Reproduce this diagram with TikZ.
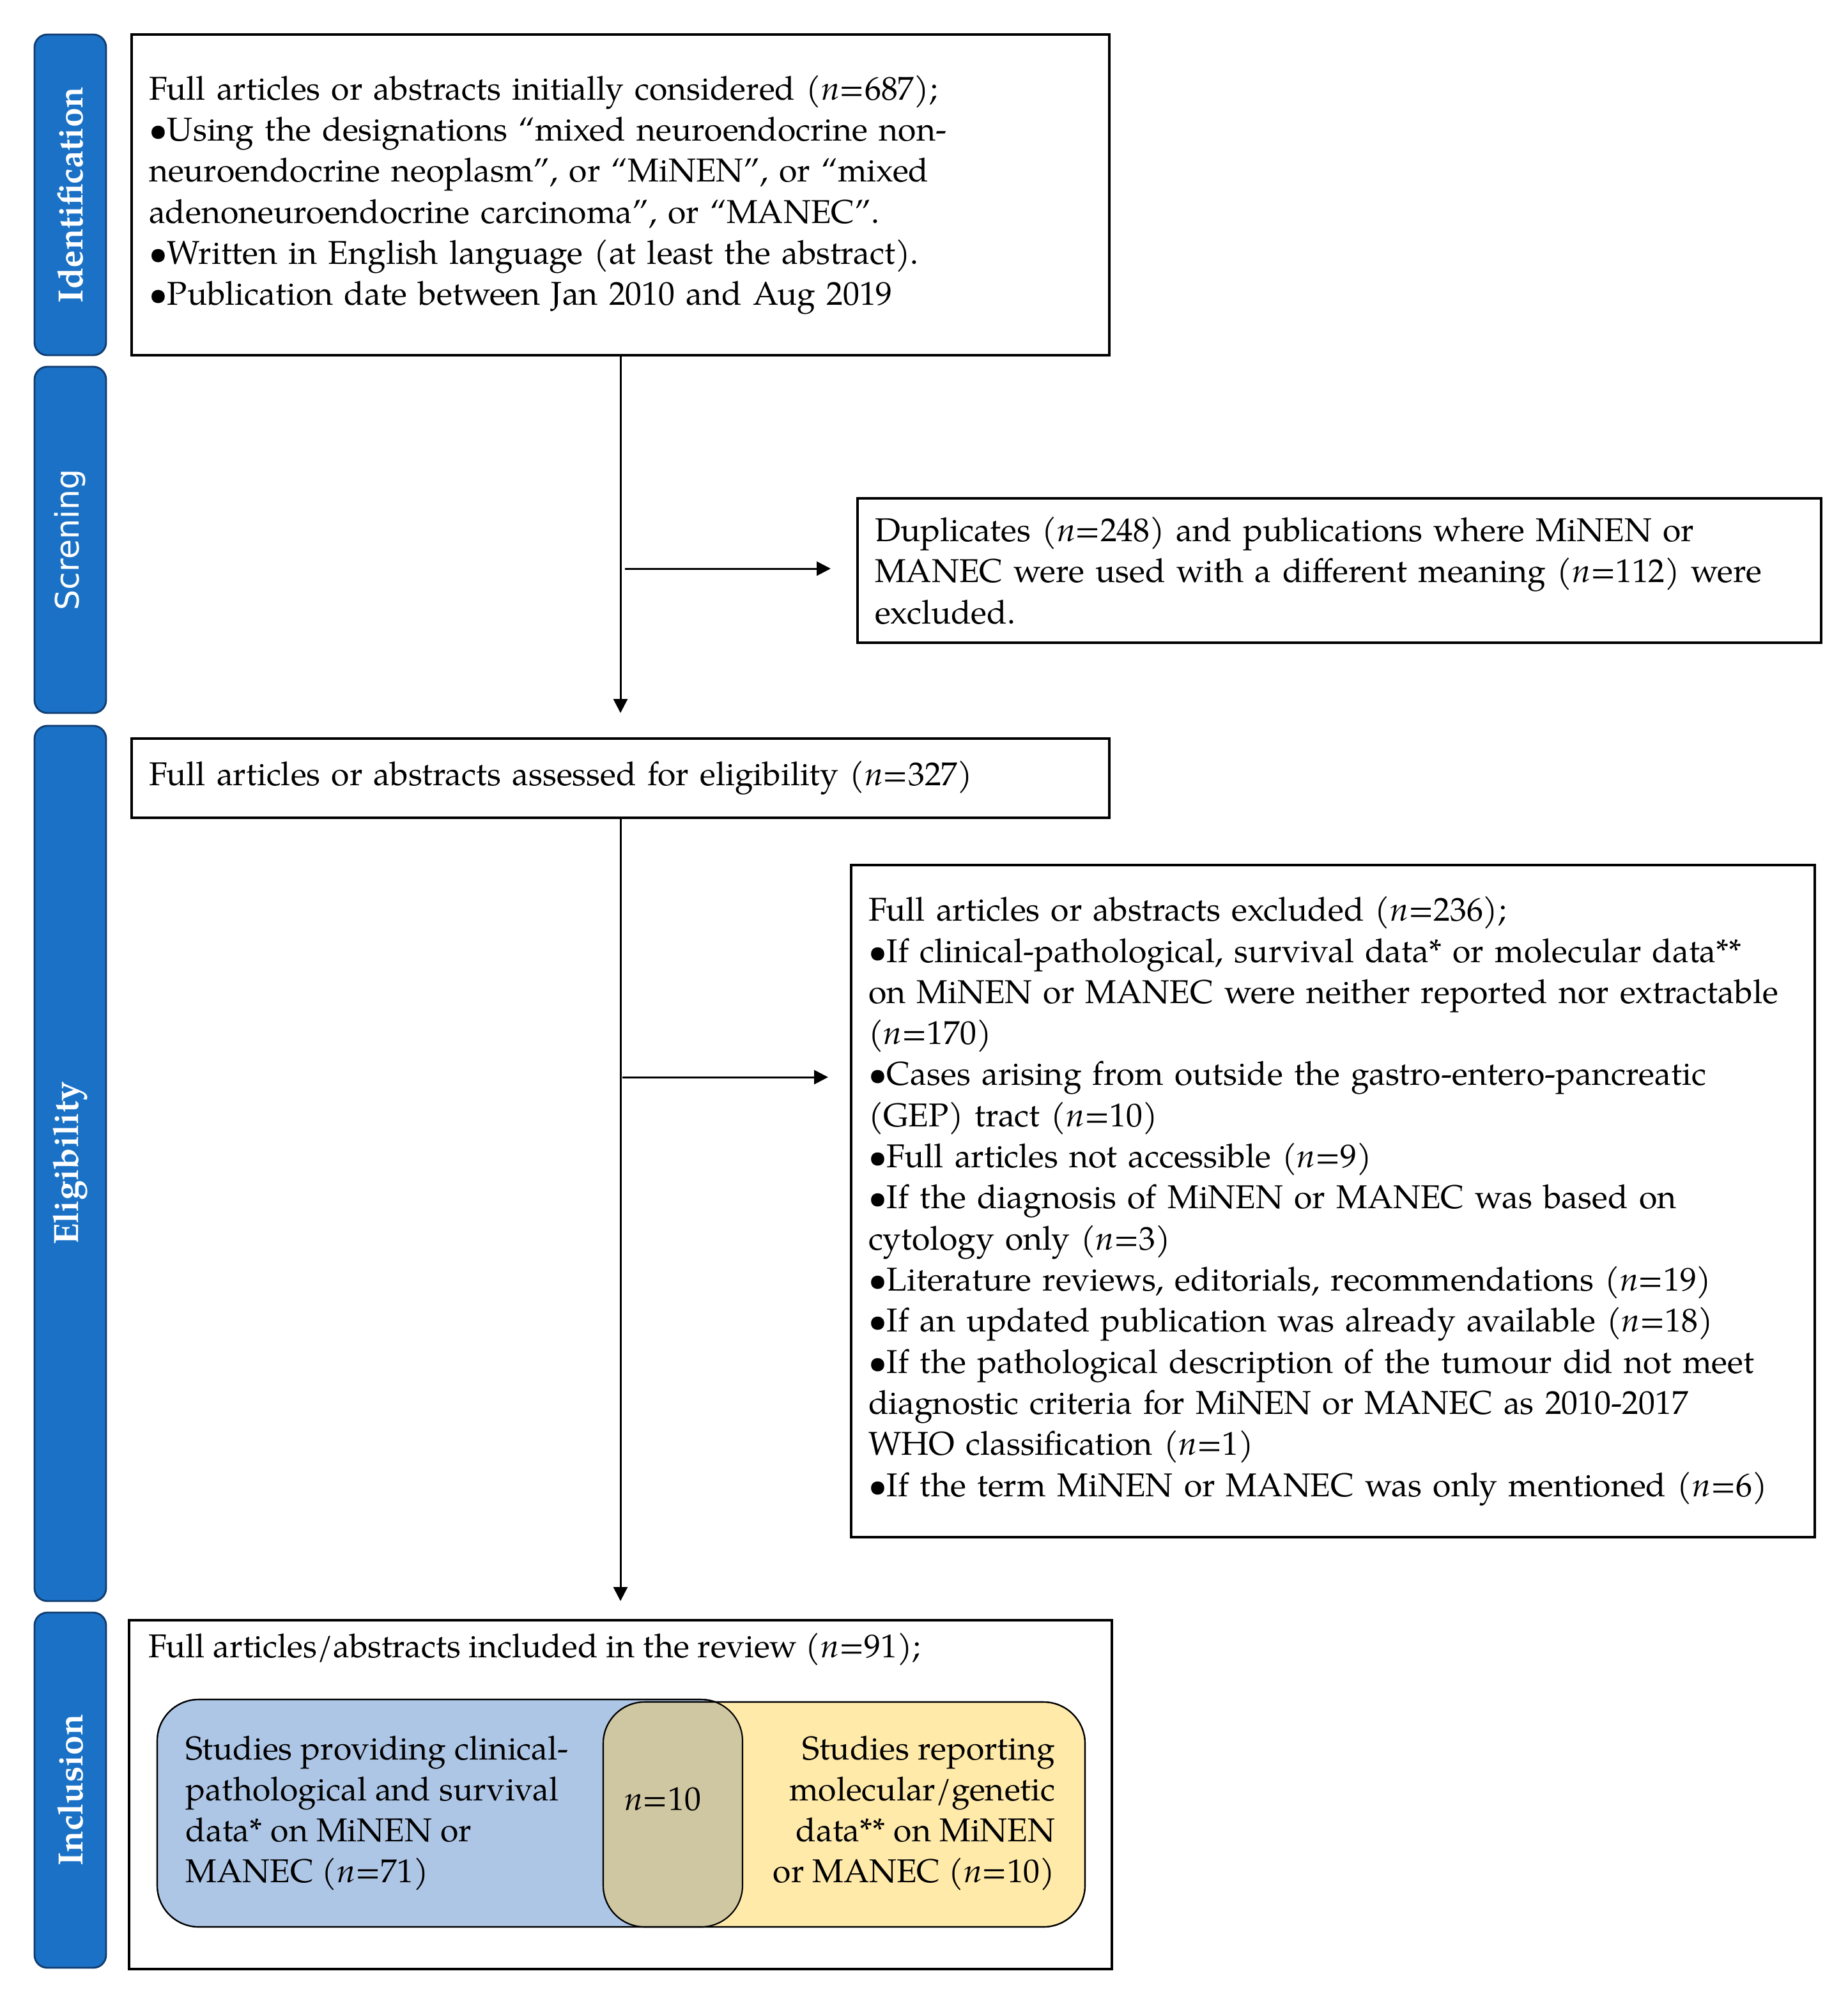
\documentclass[tikz,border=0pt]{standalone}
\usepackage{fontspec}
\setmainfont{TeX Gyre Pagella}
\newfontfamily\screenfont{DejaVu Sans}
\usetikzlibrary{arrows.meta}

\definecolor{barblue}{RGB}{26,113,197}
\definecolor{baredge}{RGB}{16,60,112}
\definecolor{clinblue}{RGB}{174,198,230}
\definecolor{molyellow}{RGB}{255,234,170}
\definecolor{bothtan}{RGB}{207,198,162}

\newcommand{\bodysize}{\fontsize{14.7pt}{18.3pt}\selectfont}
\newcommand{\barsize}{\fontsize{15.6pt}{17pt}\selectfont}

\begin{document}
\begin{tikzpicture}[
  box/.style={rectangle, draw, line width=1pt, inner xsep=0.27cm, inner ysep=0pt, outer sep=0pt, align=left, font=\bodysize},
  wide/.style={box, text width=14.76cm},
  side/.style={rectangle, draw=baredge, fill=barblue, line width=0.8pt, rounded corners=0.2cm, rotate=90, minimum height=1.12cm, text=white, font=\barsize\bfseries},
  setbox/.style={rectangle, draw, line width=0.6pt, rounded corners=0.65cm, outer sep=0pt},
  vtext/.style={inner sep=0pt, font=\bodysize},
  flow/.style={-{Triangle[length=0.22cm,width=0.22cm]}, line width=0.85pt},
  node distance=2cm
]
\useasboundingbox (0,0) rectangle (28.91,-31.32);

\node[wide, minimum height=5.02cm] (ident) at (9.71,-3.05) {Full articles or abstracts initially considered (\textit{n}=687);\\
•Using the designations “mixed neuroendocrine non-\\
neuroendocrine neoplasm”, or “MiNEN”, or “mixed\\
adenoneuroendocrine carcinoma”, or “MANEC”.\\
•Written in English language (at least the abstract).\\
•Publication date between Jan 2010 and Aug 2019};
\node[wide, minimum height=1.24cm, below of=ident, node distance=9.13cm] (elig) {Full articles or abstracts assessed for eligibility (\textit{n}=327)};
\node[box, text width=14.84cm, minimum height=5.46cm, below of=elig, node distance=15.91cm] (incl) {};
\node[box, text width=14.54cm, minimum height=2.26cm, right of=ident, node distance=11.25cm, yshift=-5.88cm] (dup) {Duplicates (\textit{n}=248) and publications where MiNEN or\\
MANEC were used with a different meaning (\textit{n}=112) were\\
excluded.};
\node[box, text width=14.54cm, minimum height=10.52cm, right of=elig, node distance=11.15cm, yshift=-6.62cm] (excl) {Full articles or abstracts excluded (\textit{n}=236);\\
•If clinical-pathological, survival data* or molecular data**\\
on MiNEN or MANEC were neither reported nor extractable\\
(\textit{n}=170)\\
•Cases arising from outside the gastro-entero-pancreatic\\
(GEP) tract (\textit{n}=10)\\
•Full articles not accessible (\textit{n}=9)\\
•If the diagnosis of MiNEN or MANEC was based on\\
cytology only (\textit{n}=3)\\
•Literature reviews, editorials, recommendations (\textit{n}=19)\\
•If an updated publication was already available (\textit{n}=18)\\
•If the pathological description of the tumour did not meet\\
diagnostic criteria for MiNEN or MANEC as 2010-2017\\
WHO classification (\textit{n}=1)\\
•If the term MiNEN or MANEC was only mentioned (\textit{n}=6)};

\node[side, minimum width=5.02cm] (idbar) at (1.10,-3.05) {Identification};
\node[side, minimum width=5.42cm, font=\fontsize{14.4pt}{16pt}\selectfont\screenfont] (scrbar) at (1.10,-8.45) {Screning};
\node[side, minimum width=13.70cm] (eligbar) at (1.10,-18.21) {Eligibility};
\node[side, minimum width=5.56cm] (inclbar) at (1.10,-28.02) {Inclusion};

\node[box, draw=none, inner xsep=0pt, anchor=west] (incltitle) at ([xshift=0.30cm,yshift=-0.46cm]incl.north west) {Full articles/abstracts included in the review (\textit{n}=91);};

\node[setbox, fill=clinblue, minimum width=9.16cm, minimum height=3.56cm] (clinset) at (7.04,-28.38) {};
\node[setbox, fill=molyellow, minimum width=7.54cm, minimum height=3.52cm] (molset) at (13.21,-28.40) {};
\begin{scope}
  \clip[rounded corners=0.65cm] (clinset.south west) rectangle (clinset.north east);
  \fill[bothtan, rounded corners=0.65cm] (molset.south west) rectangle (molset.north east);
\end{scope}
\draw[line width=0.6pt, rounded corners=0.65cm] (clinset.south west) rectangle (clinset.north east);
\draw[line width=0.6pt, rounded corners=0.65cm] (molset.south west) rectangle (molset.north east);

\node[vtext, align=left, anchor=west] (clintext) at (2.90,-28.38) {Studies providing clinical-\\pathological and survival\\data* on MiNEN or\\MANEC (\textit{n}=71)};
\node[vtext, align=right, anchor=east] (moltext) at (16.52,-28.38) {Studies reporting\\molecular/genetic\\data** on MiNEN\\or MANEC (\textit{n}=10)};
\node[vtext] (bothtext) at (10.37,-28.16) {\textit{n}=10};

\coordinate (split1) at (9.78,-8.90);
\coordinate (split2) at (9.74,-16.86);
\draw[flow, shorten >=0.40cm] (ident) -- (elig);
\draw[flow, shorten >=0.30cm] (elig) -- (incl);
\draw[flow, shorten >=0.42cm] (split1) -- (split1 -| dup.west);
\draw[flow, shorten >=0.36cm] (split2) -- (split2 -| excl.west);
\end{tikzpicture}
\end{document}
